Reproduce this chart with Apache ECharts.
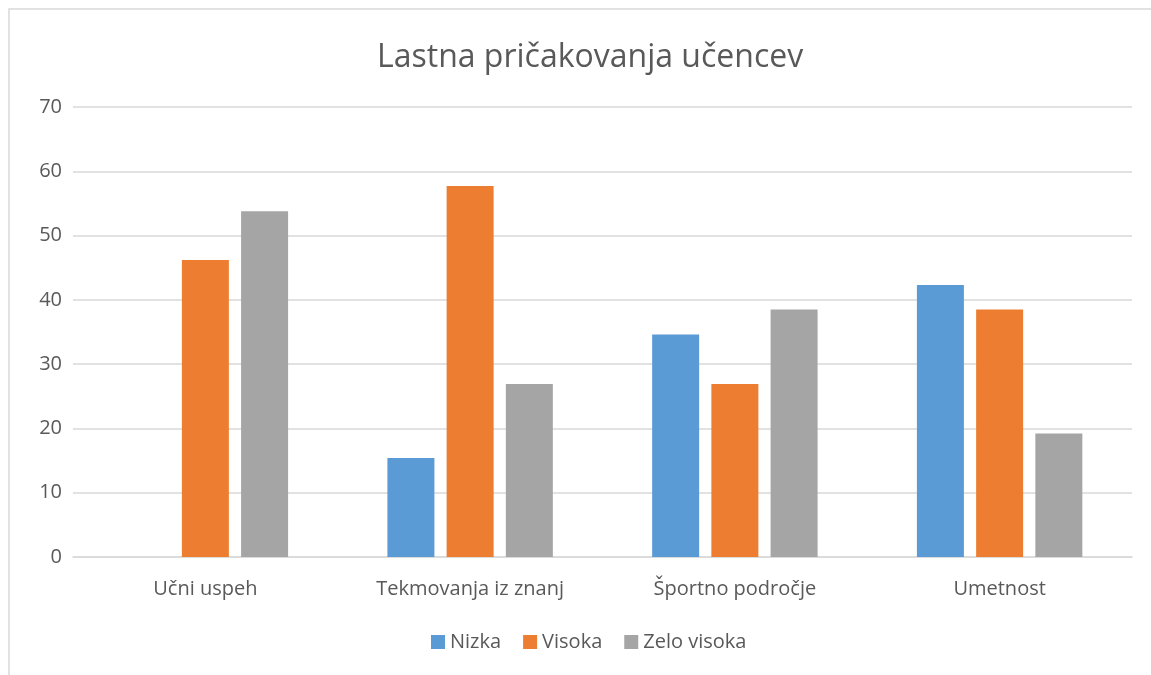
<!DOCTYPE html>
<html>
<head>
<meta charset="utf-8">
<script src="https://cdn.jsdelivr.net/npm/echarts@6/dist/echarts.min.js"></script>
<style>
html, body { margin: 0; padding: 0; background: #fff; }
#chart { width: 1151px; height: 675px; }
</style>
</head>
<body>
<div id="chart"></div>
<script>
var categories = ['Učni uspeh', 'Tekmovanja iz znanj', 'Športno področje', 'Umetnost'];
var seriesNames = ['Nizka', 'Visoka', 'Zelo visoka'];
var nizka = [0, 15.4, 34.6, 42.3];
var visoka = [46.2, 57.7, 26.9, 38.5];
var zeloVisoka = [53.8, 26.9, 38.5, 19.2];
var colors = ['#5b9bd5', '#ed7d31', '#a5a5a5'];

var font = '"Open Sans", "Noto Sans", sans-serif';
var txt = '#595959';

var makeBar = function(name, data) {
	return {
		name: name,
		type: 'bar',
		data: data,
		barWidth: 47,
		barGap: '26%'
	};
};

var option = {
	color: colors,
	textStyle: { fontFamily: font },
	title: {
		text: 'Lastna pričakovanja učencev',
		left: 372,
		top: 37,
		textStyle: { fontSize: 32, fontWeight: 'normal', color: txt, fontFamily: font }
	},
	legend: {
		data: seriesNames,
		bottom: 18,
		left: 426,
		icon: 'rect',
		itemWidth: 14,
		itemHeight: 14,
		itemGap: 22,
		textStyle: { fontSize: 20, color: txt, fontFamily: font }
	},
	grid: {
		left: 73,
		right: 19,
		top: 107,
		bottom: 118
	},
	xAxis: [{
		type: 'category',
		data: categories,
		axisLine: { lineStyle: { color: '#d9d9d9', width: 1.5 } },
		axisTick: { show: false },
		axisLabel: { fontSize: 20, color: txt, margin: 22 }
	}],
	yAxis: [{
		type: 'value',
		min: 0,
		max: 70,
		interval: 10,
		axisLine: { show: false },
		axisTick: { show: false },
		axisLabel: { fontSize: 20, color: txt, margin: 11 },
		splitLine: { lineStyle: { color: '#d9d9d9', width: 1.5 } }
	}],
	graphic: [{
		type: 'rect',
		shape: { x: 9, y: 9, width: 1200, height: 700 },
		style: { fill: 'none', stroke: '#d9d9d9', lineWidth: 1.5 },
		silent: true
	}],
	series: [
		makeBar(seriesNames[0], nizka),
		makeBar(seriesNames[1], visoka),
		makeBar(seriesNames[2], zeloVisoka)
	]
};

var chart = echarts.init(document.getElementById('chart'));
chart.setOption(option);
</script>
</body>
</html>
